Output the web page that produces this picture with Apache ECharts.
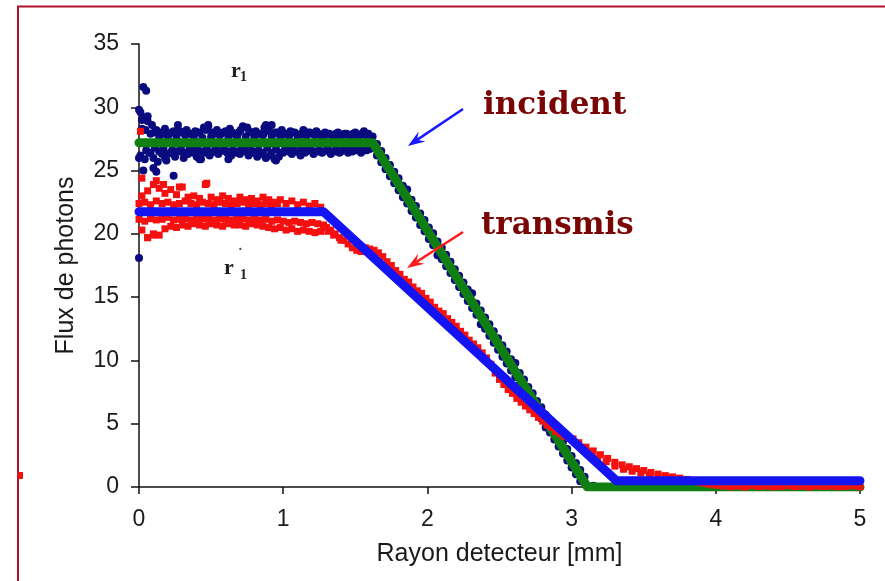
<!DOCTYPE html>
<html><head><meta charset="utf-8">
<script src="https://cdn.jsdelivr.net/npm/echarts@6/dist/echarts.min.js"></script>
<style>html,body{margin:0;padding:0;background:#fff}#c{width:885px;height:581px}</style>
</head><body><div id="c"></div>
<script>
// ---- axes ----
const xTicks = [0, 1, 2, 3, 4, 5];
const yTicks = [0, 5, 10, 15, 20, 25, 30, 35];

// ---- fitted piecewise lines ----
const incidentFit = [[0, 27.2], [1.62, 27.2], [3.11, 0], [5, 0]];
const transmisFit = [[0, 21.75], [1.28, 21.75], [3.31, 0.5], [5, 0.5]];

// ---- incident measured points (navy) ----
const incidentOutliers = [[0.03,31.6],[0.05,31.3],[0.01,29.6],[0.02,29.0],[0.06,29.3],[0.00,26.0],[0.03,25.0],[0.10,25.2],[0.12,24.9],[0.24,24.6],[0.18,26.0],[0.42,25.9],[0.00,18.1],[0.62,25.9],[0.95,25.8],[0.88,28.6],[0.92,28.6],[0.48,28.6]];
const incidentFlatHigh = [[0.00,29.8],[0.03,29.2],[0.06,28.9],[0.09,28.6],[0.12,28.2],[0.15,28.0],[0.18,28.3],[0.21,27.9],[0.24,28.1],[0.27,28.6],[0.30,28.0],[0.33,28.2],[0.36,27.9],[0.39,28.1],[0.42,28.0],[0.45,28.4],[0.48,28.5],[0.51,28.0],[0.54,28.2],[0.57,27.9],[0.60,28.1],[0.63,28.3],[0.66,27.9],[0.69,28.0],[0.72,28.5],[0.75,28.4],[0.78,28.0],[0.81,28.1],[0.84,27.9],[0.87,28.4],[0.90,28.3],[0.93,27.9],[0.96,28.0],[0.99,28.2],[1.02,27.9],[1.05,28.1],[1.08,28.0],[1.11,27.8],[1.14,28.2],[1.17,28.0],[1.20,27.9],[1.23,28.1],[1.26,27.8],[1.29,28.0],[1.32,27.9],[1.35,27.7],[1.38,28.0],[1.41,27.8],[1.44,27.9],[1.47,27.7],[1.50,28.0],[1.53,27.8],[1.56,28.1],[1.59,27.9]];
const incidentFlatHigh2 = [[0.045,28.2],[0.105,28.0],[0.165,27.9],[0.225,28.0],[0.285,28.1],[0.345,27.9],[0.405,28.0],[0.465,28.2],[0.525,27.9],[0.585,28.0],[0.645,28.0],[0.705,28.2],[0.765,28.1],[0.825,27.9],[0.885,28.1],[0.945,28.0],[1.005,27.9],[1.065,28.0],[1.125,27.9],[1.185,28.0],[1.245,27.9],[1.305,27.9],[1.365,27.9],[1.425,27.9],[1.485,27.9],[1.545,27.9]];
const incidentFlatUpper = [[0.02,28.3],[0.08,27.9],[0.14,27.6],[0.20,27.7],[0.26,27.6],[0.32,27.8],[0.38,27.7],[0.44,27.6],[0.50,27.7],[0.56,27.8],[0.62,27.6],[0.68,27.7],[0.74,27.7],[0.80,27.6],[0.86,27.8],[0.92,27.7],[0.98,27.6],[1.04,27.7],[1.10,27.6],[1.16,27.7],[1.22,27.8],[1.28,27.6],[1.34,27.7],[1.40,27.6],[1.46,27.7],[1.52,27.6],[1.58,27.7]];
const incidentFlatLowerMid = [[0.05,26.6],[0.11,26.8],[0.17,26.7],[0.23,26.6],[0.29,26.8],[0.35,26.7],[0.41,26.6],[0.47,26.8],[0.53,26.7],[0.59,26.7],[0.65,26.6],[0.71,26.8],[0.77,26.7],[0.83,26.6],[0.89,26.8],[0.95,26.7],[1.01,26.6],[1.07,26.7],[1.13,26.8],[1.19,26.7],[1.25,26.6],[1.31,26.7],[1.37,26.8],[1.43,26.7],[1.49,26.6],[1.55,26.7],[1.61,26.8]];
const incidentFlatLow2 = [[0.08,26.4],[0.14,26.5],[0.20,26.3],[0.26,26.5],[0.32,26.4],[0.38,26.4],[0.44,26.5],[0.50,26.4],[0.56,26.5],[0.62,26.5],[0.68,26.4],[0.74,26.5],[0.80,26.5],[0.86,26.4],[0.92,26.4],[0.98,26.4],[1.04,26.5],[1.10,26.5],[1.16,26.5],[1.22,26.5],[1.28,26.5],[1.34,26.5],[1.40,26.5],[1.46,26.6],[1.52,26.6],[1.58,26.6]];
const incidentFlatLow = [[0.01,26.2],[0.04,25.9],[0.07,26.4],[0.10,26.0],[0.13,25.7],[0.16,26.3],[0.19,25.8],[0.22,26.4],[0.25,26.1],[0.28,26.5],[0.31,26.0],[0.34,26.3],[0.37,26.6],[0.40,26.1],[0.43,25.9],[0.46,26.4],[0.49,26.2],[0.52,26.5],[0.55,26.3],[0.58,26.6],[0.61,26.4],[0.64,26.2],[0.67,26.5],[0.70,26.3],[0.73,26.6],[0.76,26.2],[0.79,26.4],[0.82,26.1],[0.85,26.3],[0.88,26.0],[0.91,26.2],[0.94,25.9],[0.97,26.1],[1.00,26.4],[1.03,26.6],[1.06,26.3],[1.09,26.5],[1.12,26.2],[1.15,26.4],[1.18,26.6],[1.21,26.3],[1.24,26.5],[1.27,26.4],[1.30,26.6],[1.33,26.3],[1.36,26.5],[1.39,26.4],[1.42,26.6],[1.45,26.4],[1.48,26.5],[1.51,26.6],[1.54,26.4],[1.57,26.6],[1.60,26.7]];
const incidentSlopeUpper = [[1.62,27.7],[1.65,27.1],[1.68,26.55],[1.71,26.0],[1.74,25.45],[1.77,24.9],[1.80,24.4],[1.83,23.8],[1.86,23.5],[1.89,22.7],[1.92,22.2],[1.95,21.6],[1.98,21.1],[2.01,20.5],[2.04,20.05],[2.07,19.4],[2.10,18.9],[2.13,18.35],[2.16,17.8],[2.19,17.2],[2.22,16.7],[2.25,16.15],[2.28,15.6],[2.31,15.3],[2.34,14.5],[2.37,13.95],[2.40,13.4],[2.43,12.85],[2.46,12.3],[2.49,11.75],[2.52,11.2],[2.55,10.7],[2.58,10.1],[2.61,9.8],[2.64,9.0],[2.67,8.5],[2.70,7.9],[2.73,7.4],[2.76,6.8],[2.79,6.3],[2.82,5.7],[2.85,5.2],[2.88,4.65],[2.91,4.1],[2.94,3.55],[2.97,3.0],[3.00,2.45],[3.03,1.9],[3.06,1.35],[3.09,0.8]];
const incidentSlopeLower = [[1.65,26.2],[1.68,25.65],[1.71,25.1],[1.74,24.55],[1.77,24.0],[1.80,23.45],[1.83,22.9],[1.86,22.4],[1.89,21.8],[1.92,21.3],[1.95,20.7],[1.98,20.2],[2.01,19.6],[2.04,19.1],[2.07,18.3],[2.10,18.0],[2.13,17.45],[2.16,16.9],[2.19,16.35],[2.22,15.8],[2.25,15.25],[2.28,14.7],[2.31,14.15],[2.34,13.6],[2.37,12.85],[2.40,12.5],[2.43,11.95],[2.46,11.4],[2.49,10.85],[2.52,10.3],[2.55,9.75],[2.58,9.2],[2.61,8.7],[2.64,8.1],[2.67,7.6],[2.70,7.0],[2.73,6.5],[2.76,5.9],[2.79,5.4],[2.82,4.7],[2.85,4.3],[2.88,3.75],[2.91,3.2],[2.94,2.65],[2.97,2.1],[3.00,1.55],[3.03,1.0],[3.06,0.45],[3.09,-0.1]];
const incidentTail = [[3.15,0.1],[3.25,-0.1],[3.35,0.0],[3.45,0.1],[3.55,-0.1],[3.65,0.0],[3.75,0.1],[3.85,-0.1],[3.95,0.0],[4.05,0.1],[4.15,-0.1],[4.25,0.0],[4.35,0.1],[4.45,-0.1],[4.55,0.0],[4.65,0.1],[4.75,-0.1],[4.85,0.0],[4.95,0.1]];

// ---- transmitted measured points (red) ----
const transmisOutliers = [[0.01,28.1],[0.02,24.4],[0.06,19.7],[0.10,19.9],[0.28,23.7],[0.47,24.0],[0.12,24.2],[0.17,23.9]];
const transmisFlatTop = [[0.02,23.0],[0.06,23.4],[0.10,23.9],[0.14,23.6],[0.18,23.2],[0.22,23.5],[0.26,23.1],[0.30,23.7],[0.34,22.9],[0.38,23.0],[0.42,22.8],[0.46,23.9],[0.50,22.9],[0.54,22.7],[0.58,23.0],[0.62,22.8],[0.66,22.6],[0.70,22.9],[0.74,22.7],[0.78,22.8],[0.82,22.6],[0.86,22.9],[0.90,22.7],[0.94,22.5],[0.98,22.7],[1.02,22.4],[1.06,22.6],[1.10,22.3],[1.14,22.5],[1.18,22.2],[1.22,22.4],[1.26,22.1]];
const transmisFlatUpper = [[0.00,22.4],[0.04,22.5],[0.08,22.3],[0.12,22.6],[0.16,22.4],[0.20,22.5],[0.24,22.3],[0.28,22.4],[0.32,22.6],[0.36,22.4],[0.40,22.3],[0.44,22.5],[0.48,22.4],[0.52,22.3],[0.56,22.5],[0.60,22.4],[0.64,22.3],[0.68,22.4],[0.72,22.5],[0.76,22.3],[0.80,22.4],[0.84,22.3],[0.88,22.4],[0.92,22.3],[0.96,22.4]];
const transmisFlatLower = [[0.00,21.15],[0.04,21.0],[0.08,21.2],[0.12,21.1],[0.16,21.15],[0.20,21.3],[0.24,21.1],[0.28,21.15],[0.32,21.2],[0.36,21.1],[0.40,21.15],[0.44,21.2],[0.48,21.15],[0.52,21.1],[0.56,21.2],[0.60,21.15],[0.64,21.1],[0.68,21.15],[0.72,21.2],[0.76,21.1],[0.80,21.15],[0.84,21.1],[0.88,21.15],[0.92,21.0],[0.96,21.1],[1.00,21.0],[1.04,20.9],[1.08,21.0],[1.12,20.9],[1.16,20.8],[1.20,20.9],[1.24,20.8],[1.28,20.7]];
const transmisFlatBottom = [[0.02,20.3],[0.06,19.7],[0.10,20.0],[0.14,19.9],[0.18,20.4],[0.22,20.6],[0.26,20.5],[0.30,20.7],[0.34,20.6],[0.38,20.8],[0.42,20.7],[0.46,20.6],[0.50,20.8],[0.54,20.7],[0.58,20.6],[0.62,20.8],[0.66,20.7],[0.70,20.7],[0.74,20.6],[0.78,20.8],[0.82,20.7],[0.86,20.6],[0.90,20.5],[0.94,20.4],[0.98,20.5],[1.02,20.3],[1.06,20.4],[1.10,20.2],[1.14,20.3],[1.18,20.2],[1.22,20.1],[1.26,20.2]];
const transmisSlope = [[1.30,20.5],[1.31,20.2],[1.33,20.3],[1.35,19.9],[1.36,20.0],[1.39,19.7],[1.40,19.5],[1.42,19.5],[1.45,19.2],[1.48,18.9],[1.51,18.7],[1.54,18.6],[1.57,18.9],[1.60,18.8],[1.63,18.7],[1.66,18.5],[1.69,18.2],[1.72,17.8],[1.75,17.5],[1.78,17.1],[1.81,16.8],[1.84,16.4],[1.87,16.2],[1.90,15.8],[1.93,15.5],[1.96,15.3],[1.99,14.9],[2.02,14.6],[2.05,14.2],[2.08,13.9],[2.11,13.7],[2.14,13.3],[2.17,13.0],[2.20,12.7],[2.23,12.3],[2.26,12.0],[2.29,11.6],[2.32,11.3],[2.35,11.0],[2.38,10.6],[2.41,10.2],[2.44,9.7],[2.47,9.0],[2.50,8.5],[2.53,8.1],[2.56,7.7],[2.59,7.4],[2.62,7.0],[2.65,6.7],[2.68,6.4],[2.71,6.1],[2.74,5.8],[2.77,5.5],[2.80,5.2],[2.83,4.9],[2.86,4.7],[2.89,4.4],[2.92,4.2],[2.95,4.0],[2.98,3.9],[3.01,3.8]];
const transmisTailTop = [[3.05,3.5],[3.10,3.15],[3.15,2.85],[3.20,2.55],[3.25,2.25],[3.30,1.95],[3.35,1.75],[3.40,1.6],[3.45,1.45],[3.50,1.3],[3.55,1.15],[3.60,1.02],[3.65,0.9],[3.70,0.8],[3.75,0.7],[3.80,0.6],[3.85,0.45],[3.90,0.32],[3.95,0.22],[4.00,0.14]];
const transmisTailLow = [[3.12,2.8],[3.18,2.3],[3.24,2.0],[3.30,1.65],[3.36,1.4],[3.42,1.25],[3.48,1.1],[3.54,0.95],[3.60,0.8],[3.66,0.7],[3.72,0.6]];
const transmisFar = [[4.05,0.08],[4.10,0.02],[4.15,0.06],[4.20,0.0],[4.25,0.1],[4.30,0.04],[4.35,0.07],[4.40,0.01],[4.45,0.05],[4.50,0.09],[4.55,0.03],[4.60,0.06],[4.65,0.0],[4.70,0.08],[4.75,0.04],[4.80,0.07],[4.85,0.02],[4.90,0.05],[4.95,0.09],[5.00,0.03]];

// ---- annotations (data coordinates) ----
const incidentArrow = { from: [2.247, 29.87], to: [1.865, 26.94] };
const transmisArrow = { from: [2.247, 20.15], to: [1.859, 17.30] };

const navyPoints = [].concat(incidentOutliers, incidentFlatHigh, incidentFlatHigh2, incidentFlatUpper, incidentFlatLowerMid, incidentFlatLow2, incidentFlatLow, incidentSlopeUpper, incidentSlopeLower, incidentTail);
const redPoints = [].concat(transmisOutliers, transmisFlatTop, transmisFlatUpper, transmisFlatLower, transmisFlatBottom, transmisSlope, transmisTailTop, transmisTailLow, transmisFar);

const chart = echarts.init(document.getElementById('c'), null, { renderer: 'canvas' });
const sansFont = 'Liberation Sans, Arial, sans-serif';
const tickTxt = { color: '#1a1a1a', fontFamily: sansFont, fontSize: 23 };
const nameTxt = { color: '#1a1a1a', fontFamily: sansFont, fontSize: 25 };

chart.setOption({
  backgroundColor: '#ffffff',
  animation: false,
  grid: { left: 139, right: 25, top: 44, bottom: 94, containLabel: false },
  xAxis: {
    type: 'value', min: xTicks[0], max: xTicks[xTicks.length - 1], interval: 1,
    name: 'Rayon detecteur [mm]', nameLocation: 'middle', nameGap: 55,
    nameTextStyle: nameTxt,
    axisLine: { show: true, onZero: false, lineStyle: { color: '#111', width: 1.5 } },
    axisTick: { show: true, inside: false, length: 7, lineStyle: { color: '#111', width: 1.5 } },
    axisLabel: Object.assign({ margin: 21 }, tickTxt),
    splitLine: { show: false }
  },
  yAxis: {
    type: 'value', min: yTicks[0], max: yTicks[yTicks.length - 1], interval: 5,
    name: 'Flux de photons', nameLocation: 'middle', nameGap: 60,
    nameTextStyle: nameTxt,
    axisLine: { show: true, lineStyle: { color: '#111', width: 1.5 } },
    axisTick: { show: true, inside: false, length: 8, lineStyle: { color: '#111', width: 1.5 } },
    axisLabel: Object.assign({ margin: 20 }, tickTxt),
    splitLine: { show: false }
  },
  series: [
    { type: 'scatter', name: 'incident data', data: navyPoints, symbol: 'circle', symbolSize: 8,
      itemStyle: { color: '#0b0b80', opacity: 1, borderWidth: 0 }, silent: true, z: 2 },
    { type: 'line', name: 'incident fit', data: incidentFit, symbol: 'none', silent: true, z: 3,
      lineStyle: { color: '#0f7f12', width: 9, cap: 'round', join: 'round' } },
    { type: 'scatter', name: 'transmis data', data: redPoints, symbol: 'rect', symbolSize: 7,
      itemStyle: { color: '#f51010', opacity: 1, borderWidth: 0 }, silent: true, z: 4 },
    { type: 'line', name: 'transmis fit', data: transmisFit, symbol: 'none', silent: true, z: 5,
      lineStyle: { color: '#1414f2', width: 9, cap: 'round', join: 'round' } }
  ]
});

function arrowGraphic(a, color) {
  const p0 = chart.convertToPixel({ gridIndex: 0 }, a.from);
  const p1 = chart.convertToPixel({ gridIndex: 0 }, a.to);
  const dx = p1[0] - p0[0], dy = p1[1] - p0[1];
  const len = Math.sqrt(dx * dx + dy * dy);
  const ux = dx / len, uy = dy / len, nx = -uy, ny = ux;
  const L = 17, W = 6, N = 11;
  const b1 = [p1[0] - L * ux + W * nx, p1[1] - L * uy + W * ny];
  const b2 = [p1[0] - L * ux - W * nx, p1[1] - L * uy - W * ny];
  const nb = [p1[0] - N * ux, p1[1] - N * uy];
  return [
    { type: 'line', shape: { x1: p0[0], y1: p0[1], x2: nb[0], y2: nb[1] }, style: { stroke: color, lineWidth: 2.5 }, z: 100 },
    { type: 'polygon', shape: { points: [p1, b1, nb, b2] }, style: { fill: color }, z: 100 }
  ];
}

const serifBold = 'bold 31px "DejaVu Serif", serif';
const labFont = 'Liberation Serif, serif';
const frameColor = '#b0122e';
chart.setOption({
  graphic: [
    { type: 'line', shape: { x1: 17, y1: 6.5, x2: 885, y2: 6.5 }, style: { stroke: frameColor, lineWidth: 2 }, z: 100 },
    { type: 'line', shape: { x1: 18, y1: 6, x2: 18, y2: 581 }, style: { stroke: frameColor, lineWidth: 2 }, z: 100 },
    { type: 'rect', shape: { x: 18, y: 472, width: 5, height: 7 }, style: { fill: '#f51010' }, z: 100 },
    { type: 'text', x: 483, y: 105.5, style: { text: 'incident', font: serifBold, fill: '#7a0505', align: 'left', verticalAlign: 'middle' }, z: 100 },
    { type: 'text', x: 481, y: 226, style: { text: 'transmis', font: serifBold, fill: '#7a0505', align: 'left', verticalAlign: 'middle' }, z: 100 },
    { type: 'text', x: 231, y: 71, style: { text: 'r', font: 'bold 22px ' + labFont, fill: '#222', align: 'left', verticalAlign: 'middle' }, z: 100 },
    { type: 'text', x: 240, y: 77, style: { text: '1', font: 'bold 14px ' + labFont, fill: '#222', align: 'left', verticalAlign: 'middle' }, z: 100 },
    { type: 'text', x: 224, y: 268, style: { text: 'r', font: 'bold 22px ' + labFont, fill: '#222', align: 'left', verticalAlign: 'middle' }, z: 100 },
    { type: 'text', x: 238, y: 254, style: { text: '\u02D9', font: 'bold 14px ' + labFont, fill: '#444', align: 'left', verticalAlign: 'middle' }, z: 100 },
    { type: 'text', x: 240, y: 275, style: { text: '1', font: 'bold 14px ' + labFont, fill: '#222', align: 'left', verticalAlign: 'middle' }, z: 100 }
  ].concat(arrowGraphic(incidentArrow, '#1a1aff'), arrowGraphic(transmisArrow, '#ff1a1a'))
});
</script>
</body></html>
